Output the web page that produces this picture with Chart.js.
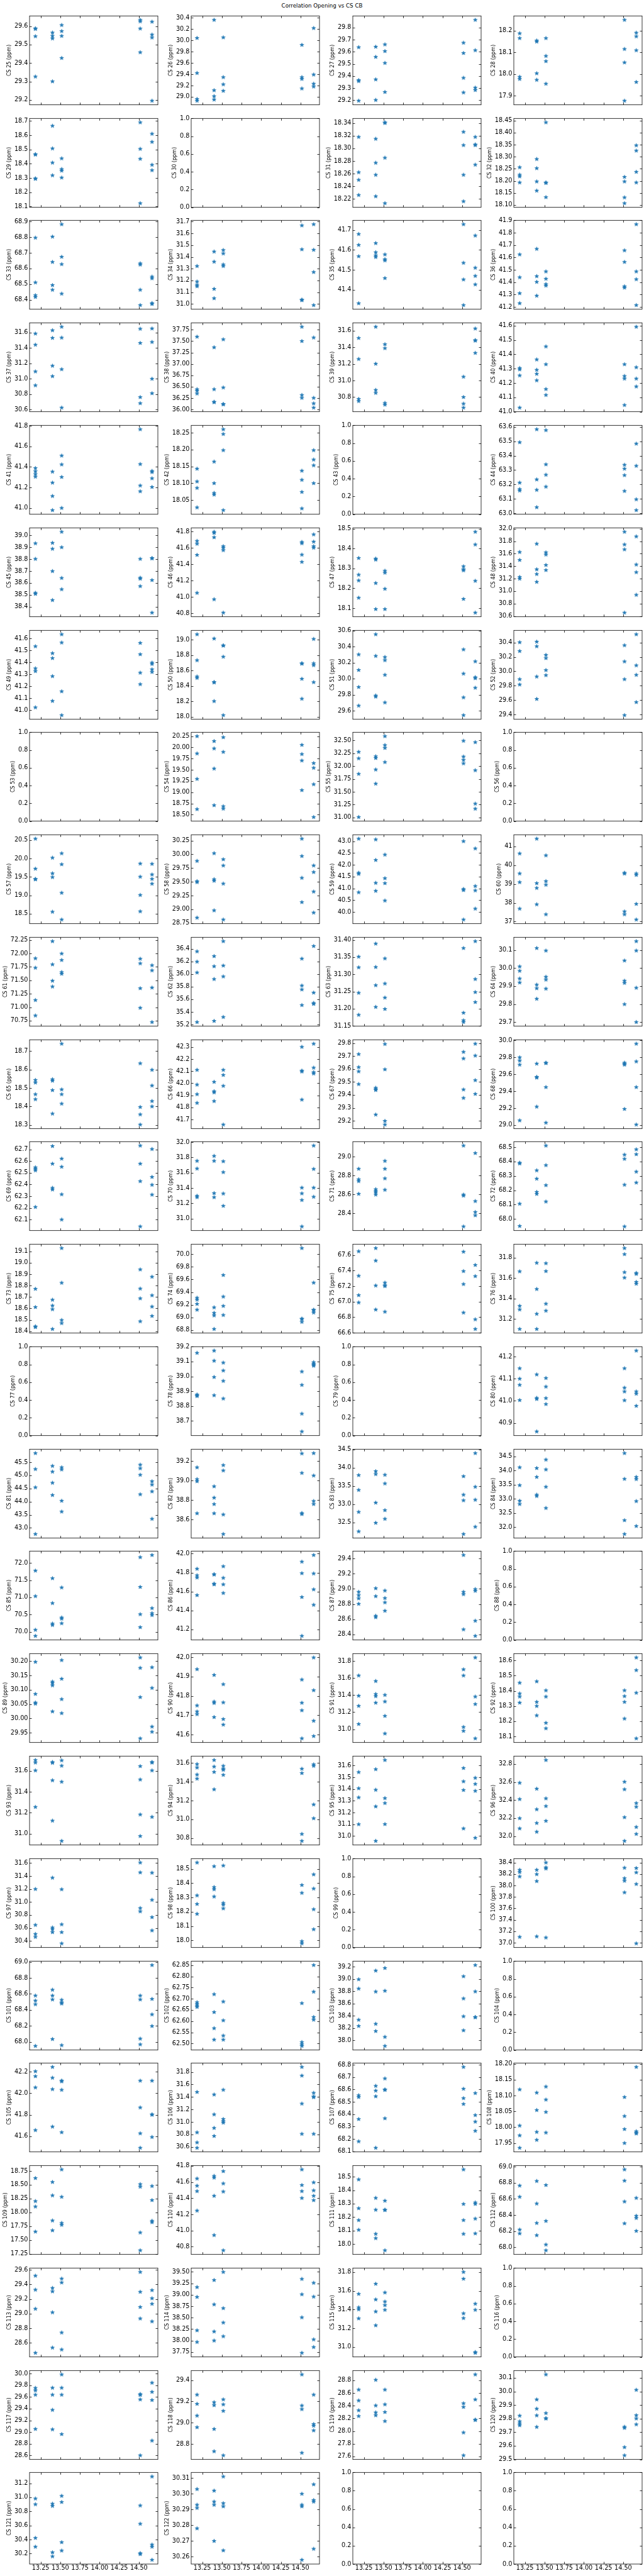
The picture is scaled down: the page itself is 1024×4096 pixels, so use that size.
<!DOCTYPE html>
<html>
<head>
<meta charset="utf-8">
<script src="https://cdn.jsdelivr.net/npm/chart.js@4/dist/chart.umd.min.js"></script>
<style>
  body { margin: 0; background: #fff; width: 1024px; height: 4096px; position: relative; overflow: hidden; }
  canvas { position: absolute; }
  #title { position: absolute; top: 3.5px; left: 0; width: 1024px; text-align: center;
           font: 8.7px "DejaVu Sans"; line-height: 10px; color: #000; }
</style>
</head>
<body>
<div id="title">Correlation Opening vs CS CB</div>
<script>
// measurement times (decimal hours), shared by every panel
const timePoints = [13.183, 13.4, 13.517, 14.517, 14.667];
const xTickValues = [13.25, 13.5, 13.75, 14.0, 14.25, 14.5];

const csIds = [];
for (let i = 25; i <= 122; i++) csIds.push(i);

// chemical shifts (ppm): per panel, one group of 4 replicates per time point; null = no data
const csShifts = [
  [[29.588,29.585,29.545,29.326],[29.565,29.547,29.533,29.300],[29.606,29.573,29.547,29.427],[29.634,29.626,29.587,29.458],[29.624,29.554,29.538,29.195]],
  [[30.04,29.42,28.96,28.93],[30.36,29.115,29.01,28.95],[30.05,29.346,29.22,29.105],[29.918,29.346,29.315,29.146],[30.215,29.392,29.23,29.18]],
  [[29.637,29.365,29.357,29.195],[29.641,29.557,29.371,29.201],[29.66,29.605,29.507,29.267],[29.674,29.589,29.384,29.263],[29.863,29.612,29.303,29.283]],
  [[18.187,18.165,17.987,17.977],[18.154,18.149,18.003,17.973],[18.165,18.083,18.059,17.955],[18.249,18.115,18.053,17.877],[18.19,18.173,18.109,17.963]],
  [[18.466,18.464,18.296,18.294],[18.666,18.507,18.407,18.318],[18.437,18.362,18.351,18.302],[18.69,18.504,18.434,18.122],[18.61,18.553,18.392,18.354]],
  null,
  [[18.318,18.262,18.25,18.226],[18.315,18.277,18.258,18.224],[18.341,18.34,18.285,18.213],[18.326,18.305,18.258,18.216],[18.318,18.306,18.305,18.274]],
  [[18.256,18.225,18.218,18.193],[18.29,18.252,18.197,18.159],[18.442,18.193,18.191,18.132],[18.216,18.197,18.131,18.107],[18.347,18.325,18.237,18.193]],
  [[68.796,68.51,68.428,68.417],[68.803,68.641,68.493,68.463],[68.882,68.674,68.627,68.438],[68.632,68.624,68.463,68.365],[68.547,68.536,68.378,68.372]],
  [[31.322,31.19,31.162,31.15],[31.445,31.359,31.128,31.048],[31.458,31.429,31.335,31.322],[31.667,31.464,31.037,31.031],[31.677,31.46,31.271,30.99]],
  [[41.68,41.625,41.568,41.331],[41.634,41.588,41.572,41.564],[41.577,41.553,41.547,41.458],[41.729,41.535,41.451,41.322],[41.672,41.51,41.469,41.426]],
  [[41.624,41.439,41.31,41.229],[41.669,41.448,41.402,41.29],[41.486,41.427,41.384,41.372],[41.657,41.563,41.366,41.355],[41.868,41.486,41.423,41.214]],
  [[31.585,31.44,31.093,30.913],[31.628,31.529,31.167,31.032],[31.673,31.532,31.122,30.624],[31.647,31.463,30.76,30.681],[31.651,31.476,30.998,30.81]],
  [[37.595,36.444,36.412,36.349],[37.363,36.444,36.168,36.159],[37.538,36.482,36.121,36.111],[37.813,37.5,36.317,36.254],[37.576,36.254,36.133,36.041]],
  [[31.509,31.257,30.777,30.751],[31.644,31.2,30.885,30.85],[31.434,31.387,30.729,30.708],[31.044,30.8,30.72,30.673],[31.623,31.483,31.478,31.33]],
  [[41.304,41.294,41.252,41.028],[41.363,41.291,41.263,41.218],[41.454,41.33,41.157,41.116],[41.33,41.248,41.23,41.046],[41.591,41.309,41.23,41.175]],
  [[41.388,41.357,41.329,41.304],[41.353,41.246,41.116,40.979],[41.509,41.423,41.301,41.0],[41.765,41.427,41.218,41.162],[41.36,41.349,41.288,41.204]],
  [[18.143,18.105,18.086,18.028],[18.164,18.1,18.071,18.066],[18.26,18.246,18.198,18.02],[18.137,18.11,18.074,18.025],[18.198,18.17,18.153,18.1]],
  null,
  [[63.493,63.212,63.167,63.157],[63.583,63.234,63.162,63.041],[63.577,63.339,63.267,63.184],[63.336,63.309,63.264,63.154],[63.483,63.329,63.096,63.021]],
  [[38.933,38.802,38.516,38.507],[38.937,38.887,38.699,38.455],[39.03,38.9,38.641,38.546],[38.802,38.643,38.635,38.572],[38.809,38.806,38.623,38.349]],
  [[41.684,41.649,41.513,41.05],[41.795,41.781,41.728,40.972],[41.619,41.601,41.571,40.809],[41.671,41.655,41.516,41.428],[41.763,41.675,41.619,41.601]],
  [[18.352,18.268,18.239,18.152],[18.349,18.344,18.226,18.095],[18.288,18.278,18.197,18.095],[18.31,18.295,18.29,18.146],[18.484,18.42,18.237,18.077]],
  [[31.625,31.498,31.225,31.198],[31.757,31.348,31.272,31.147],[31.619,31.584,31.417,31.336],[31.949,31.746,31.667,30.654],[31.875,31.424,31.302,30.939]],
  [[41.534,41.349,41.326,41.023],[41.476,41.435,41.284,41.077],[41.634,41.565,41.157,40.958],[41.562,41.467,41.313,41.217],[41.397,41.386,41.341,41.319]],
  [[19.07,18.733,18.522,18.504],[19.015,18.45,18.445,18.202],[18.925,18.924,18.779,18.02],[18.693,18.69,18.492,18.233],[19.01,18.693,18.669,18.448]],
  [[30.301,30.108,29.896,29.664],[30.552,30.283,29.79,29.776],[30.269,30.23,30.048,29.704],[30.364,30.063,29.767,29.546],[30.215,30.018,30.005,29.887]],
  [[30.402,30.28,29.89,29.816],[30.41,30.346,29.926,29.616],[30.226,30.182,30.016,29.946],[30.36,30.136,29.89,29.392],[30.512,30.082,29.95,29.572]],
  null,
  [[20.247,19.862,19.295,18.622],[20.138,19.974,19.526,18.708],[20.224,19.897,18.686,18.632],[20.054,19.849,19.705,19.045],[19.647,19.542,19.176,18.446]],
  [[32.276,32.15,31.848,31.008],[32.189,32.156,31.932,31.657],[32.581,32.408,32.352,32.077],[32.492,32.184,32.119,32.052],[32.464,31.918,31.268,31.17]],
  null,
  [[20.536,19.722,19.444,19.433],[20.02,19.595,19.492,18.552],[20.139,19.841,19.067,18.341],[19.861,19.504,19.008,18.564],[19.853,19.564,19.444,19.314]],
  [[29.879,29.51,29.492,28.847],[30.018,29.545,29.518,28.979],[29.908,29.795,29.466,28.813],[30.282,29.967,29.571,29.129],[29.795,29.676,29.321,28.939]],
  [[43.106,41.662,41.613,40.833],[43.075,42.203,41.232,40.894],[42.43,41.429,41.22,40.483],[43.0,40.974,40.925,39.678],[42.694,41.097,40.913,40.139]],
  [[40.615,39.554,39.092,37.685],[41.4,39.038,38.785,37.915],[40.515,39.146,38.954,37.385],[39.592,39.55,37.538,37.385],[39.554,39.477,37.938,37.108]],
  [[71.908,71.733,71.132,70.844],[72.226,71.795,71.491,71.383],[71.997,71.876,71.652,71.62],[71.9,71.814,71.351,70.987],[71.779,71.684,71.364,70.723]],
  [[36.356,36.194,36.022,35.239],[36.281,36.121,35.919,35.257],[36.517,36.132,35.96,35.319],[36.242,35.816,35.754,35.507],[36.441,35.704,35.541,35.525]],
  [[31.351,31.32,31.246,31.182],[31.389,31.321,31.268,31.205],[31.346,31.273,31.232,31.199],[31.376,31.188,31.166,31.161],[31.396,31.286,31.248,31.219]],
  [[30.008,29.984,29.941,29.919],[30.11,29.907,29.887,29.829],[30.096,29.951,29.935,29.885],[30.041,29.929,29.917,29.799],[30.148,30.096,29.89,29.7]],
  [[18.543,18.529,18.466,18.439],[18.547,18.539,18.488,18.361],[18.739,18.492,18.466,18.415],[18.633,18.397,18.357,18.302],[18.598,18.513,18.429,18.4]],
  [[42.11,41.988,41.909,41.837],[42.011,41.933,41.924,41.852],[42.11,42.068,41.978,41.658],[42.3,42.104,42.096,41.864],[42.326,42.128,42.091,42.08]],
  [[29.715,29.614,29.581,29.483],[29.454,29.444,29.437,29.247],[29.793,29.597,29.198,29.17],[29.732,29.681,29.441,29.376],[29.795,29.703,29.513,29.407]],
  [[29.798,29.76,29.712,29.054],[29.724,29.568,29.559,29.216],[29.735,29.73,29.447,29.027],[29.735,29.722,29.712,29.189],[29.959,29.75,29.447,29.005]],
  [[62.546,62.533,62.52,62.208],[62.727,62.577,62.371,62.357],[62.62,62.551,62.316,62.101],[62.731,62.577,62.428,62.042],[62.702,62.464,62.397,62.313]],
  [[31.754,31.653,31.297,31.278],[31.818,31.754,31.331,31.278],[31.748,31.606,31.326,31.165],[31.403,31.328,31.242,30.896],[31.953,31.648,31.403,31.284]],
  [[28.871,28.759,28.74,28.605],[28.654,28.635,28.62,28.597],[28.955,28.871,28.769,28.648],[29.117,28.597,28.586,28.259],[29.038,28.528,28.412,28.377]],
  [[68.391,68.386,68.106,67.951],[68.338,68.28,68.188,68.174],[68.51,68.374,68.235,68.121],[68.447,68.418,68.238,67.948],[68.484,68.45,68.329,68.253]],
  [[18.771,18.611,18.442,18.435],[18.675,18.624,18.592,18.419],[19.128,18.824,18.497,18.47],[18.941,18.773,18.687,18.486],[18.877,18.714,18.615,18.533]],
  [[69.309,69.279,69.211,69.119],[69.156,69.069,69.028,68.814],[69.669,69.327,69.179,69.035],[70.096,68.978,68.97,68.926],[69.548,69.119,69.11,69.074]],
  [[67.648,67.333,67.083,66.989],[67.689,67.528,67.207,66.898],[67.244,67.21,67.2,66.87],[67.643,67.393,67.226,66.859],[67.472,67.328,66.772,66.648]],
  [[31.665,31.327,31.292,31.101],[31.749,31.492,31.249,31.101],[31.745,31.668,31.348,31.28],[31.893,31.834,31.657,31.604],[31.65,31.64,31.562,31.544]],
  null,
  [[39.158,38.877,38.871,38.867],[39.173,39.105,38.995,38.872],[39.092,39.039,38.969,38.85],[39.032,38.942,38.748,38.628],[39.095,39.084,39.078,39.071]],
  null,
  [[41.147,41.1,41.072,41.003],[41.119,41.013,41.008,40.861],[41.103,41.064,41.012,40.985],[41.147,41.059,41.042,41.002],[41.227,41.042,41.032,40.977]],
  [[45.841,45.236,44.539,42.764],[45.356,45.137,44.714,44.247],[45.302,45.219,44.028,43.616],[45.401,45.264,45.017,44.275],[44.77,44.643,44.384,43.341]],
  [[39.136,39.015,38.993,38.664],[38.941,38.825,38.759,38.664],[39.159,39.104,38.652,38.452],[39.279,39.079,38.667,38.656],[39.282,39.052,38.79,38.759]],
  [[33.794,33.386,32.783,32.247],[33.901,33.821,33.036,32.482],[33.802,33.564,32.83,32.592],[33.762,33.255,33.1,32.176],[34.397,33.473,33.116,32.374]],
  [[34.113,33.482,32.932,32.815],[34.087,33.773,33.146,33.1],[34.384,34.037,33.426,32.677],[34.613,33.705,32.245,31.76],[33.773,33.696,32.92,32.04]],
  [[71.777,71.034,70.054,69.878],[71.555,70.832,70.235,70.193],[71.286,70.412,70.378,70.244],[72.168,71.302,70.508,70.13],[72.231,70.685,70.538,70.483]],
  [[41.84,41.771,41.747,41.561],[41.782,41.779,41.683,41.675],[41.866,41.744,41.675,41.584],[41.915,41.793,41.541,41.131],[41.985,41.79,41.622,41.459]],
  [[28.96,28.916,28.874,28.802],[29.007,28.903,28.645,28.626],[28.977,28.878,28.821,28.711],[29.444,28.96,28.929,28.466],[28.996,28.973,28.58,28.381]],
  null,
  [[30.197,30.085,30.055,30.051],[30.128,30.123,30.115,30.024],[30.203,30.138,30.067,30.018],[30.212,30.176,30.074,29.93],[30.178,30.106,29.971,29.953]],
  [[41.938,41.75,41.719,41.705],[41.908,41.77,41.763,41.69],[41.86,41.766,41.68,41.651],[41.884,41.764,41.725,41.58],[41.998,41.829,41.671,41.592]],
  [[31.63,31.392,31.273,31.06],[31.565,31.412,31.387,31.31],[31.402,31.324,31.155,30.948],[31.702,31.63,31.025,30.979],[31.841,31.382,31.294,30.891]],
  [[18.453,18.382,18.362,18.322],[18.462,18.327,18.3,18.238],[18.403,18.362,18.189,18.153],[18.403,18.365,18.327,18.217],[18.619,18.536,18.387,18.087]],
  [[31.702,31.678,31.603,31.255],[31.683,31.676,31.509,31.124],[31.699,31.648,31.495,30.931],[31.644,31.516,31.183,30.977],[31.683,31.678,31.603,31.16]],
  [[31.588,31.551,31.476,31.433],[31.631,31.561,31.504,31.319],[31.569,31.538,31.527,31.473],[31.538,31.492,30.843,30.769],[31.585,31.569,31.157,31.01]],
  [[31.544,31.406,31.328,31.099],[31.569,31.393,31.251,30.957],[31.647,31.322,31.28,31.1],[31.579,31.465,31.391,31.063],[31.495,31.443,31.384,30.983]],
  [[32.591,32.41,32.198,32.085],[32.525,32.297,32.145,32.048],[32.843,32.418,32.333,32.169],[32.602,32.519,32.209,31.947],[32.366,32.325,32.101,32.024]],
  [[31.199,30.645,30.505,30.46],[31.373,30.605,30.578,30.533],[31.195,30.654,30.533,30.36],[31.607,31.455,30.905,30.854],[31.45,31.032,30.765,30.56]],
  [[18.544,18.314,18.254,18.185],[18.518,18.372,18.357,18.306],[18.523,18.261,18.249,18.223],[18.387,18.332,17.993,17.978],[18.461,18.362,18.217,18.077]],
  null,
  [[38.273,38.233,38.157,37.1],[38.273,38.197,38.076,37.108],[38.4,38.316,38.296,37.088],[38.309,38.126,38.081,37.878],[38.304,38.228,38.025,36.986]],
  [[68.578,68.515,68.469,67.947],[68.651,68.578,68.529,68.033],[68.524,68.491,68.478,67.956],[68.578,68.529,68.038,67.966],[68.96,68.536,68.342,68.196]],
  [[62.684,62.676,62.669,62.663],[62.72,62.64,62.568,62.517],[62.687,62.603,62.535,62.517],[62.68,62.506,62.496,62.489],[62.85,62.731,62.618,62.606]],
  [[38.992,38.84,38.331,38.23],[39.134,38.791,38.265,38.147],[39.176,38.805,38.052,37.905],[39.041,38.679,38.388,38.159],[39.224,38.793,38.376,38.372]],
  null,
  [[42.203,42.157,42.053,41.657],[42.243,42.143,42.037,41.689],[42.117,42.109,42.031,41.637],[42.116,41.867,41.627,41.493],[42.116,41.803,41.8,41.593]],
  [[31.478,30.832,30.671,30.586],[31.437,31.12,30.903,30.775],[31.513,31.046,31.011,30.988],[31.878,31.74,31.292,30.809],[31.464,31.406,31.395,30.809]],
  [[68.552,68.538,68.36,68.18],[68.628,68.59,68.544,68.128],[68.688,68.599,68.596,68.366],[68.781,68.605,68.529,68.482],[68.57,68.392,68.339,68.265]],
  [[18.119,18.005,17.974,17.935],[18.109,18.054,17.985,17.96],[18.128,18.087,18.048,17.983],[18.095,18.035,17.994,17.95],[18.19,17.987,17.983,17.98]],
  [[18.62,18.202,18.103,17.649],[18.549,18.306,17.85,17.672],[18.776,18.28,17.806,17.772],[18.51,18.463,17.633,17.31],[18.476,18.22,17.845,17.819]],
  [[41.643,41.554,41.487,41.246],[41.675,41.654,41.429,40.943],[41.734,41.582,41.482,40.755],[41.755,41.562,41.487,41.402],[41.595,41.496,41.429,41.375]],
  [[18.479,18.265,18.177,18.105],[18.342,18.254,18.075,18.043],[18.321,18.254,18.252,17.953],[18.553,18.297,18.177,18.075],[18.308,18.297,18.188,18.078]],
  [[68.764,68.625,68.218,68.17],[68.821,68.541,68.3,68.148],[68.771,68.325,68.032,67.961],[68.964,68.825,68.566,68.295],[68.611,68.389,68.362,68.202]],
  [[29.519,29.327,29.066,28.462],[29.351,29.304,29.017,28.533],[29.479,29.426,28.74,28.507],[29.57,29.298,29.09,28.932],[29.321,29.209,29.134,28.893]],
  [[39.164,38.95,38.221,37.967],[39.318,38.787,38.196,37.998],[39.494,38.705,38.391,38.092],[39.343,39.007,38.504,37.731],[39.258,38.956,38.023,37.857]],
  [[31.566,31.422,31.401,31.304],[31.674,31.507,31.378,31.23],[31.581,31.484,31.446,31.396],[31.8,31.728,31.358,31.308],[31.461,31.396,30.945,30.937]],
  null,
  [[29.753,29.711,29.637,29.052],[29.756,29.637,29.378,29.044],[29.983,29.756,29.637,28.963],[29.649,29.632,29.556,28.6],[29.842,29.686,29.546,28.852]],
  [[29.262,29.176,29.065,28.956],[29.191,29.163,28.94,28.73],[29.218,29.171,29.11,28.692],[29.452,29.16,29.126,28.716],[29.262,28.986,28.97,28.926]],
  [[28.652,28.481,28.326,28.235],[28.807,28.402,28.292,28.247],[28.652,28.42,28.299,28.156],[28.436,28.379,27.976,27.616],[28.891,28.497,28.178,28.174]],
  [[29.821,29.779,29.763,29.75],[29.94,29.872,29.823,29.738],[30.124,29.84,29.802,29.8],[29.739,29.731,29.589,29.529],[30.011,29.824,29.8,29.757]],
  [[30.982,30.9,30.422,30.297],[30.908,30.877,30.217,30.16],[31.02,30.932,30.361,30.242],[30.883,30.623,30.206,30.192],[31.295,30.327,30.297,30.111]],
  [[30.303,30.293,30.291,30.278],[30.302,30.295,30.293,30.27],[30.311,30.294,30.292,30.264],[30.3,30.293,30.292,30.258],[30.306,30.296,30.295,30.265]]
];

// layout (px in the 1024 wide page)
const S = 1024 / 1440;
const NCOLS = 4, NROWS = 25;
const colLeft = [47, 304, 561, 817];
const areaW = 204, areaH = 146;
const yAxisW = 47, padTop = 8, padRight = 5;
const tickFont = { family: "DejaVu Sans", size: 9.7 };
const labelFont = "8px 'DejaVu Sans'";
const starColor = "#1f77b4";

// matplotlib-like MaxNLocator (nbins 8, steps 1/2/2.5/5/10)
function locateTicks(vmin, vmax, nbins) {
  const raw = (vmax - vmin) / nbins;
  const scale = Math.pow(10, Math.floor(Math.log10(raw)));
  let step = 10 * scale;
  for (const b of [1, 2, 2.5, 5, 10]) {
    if (b * scale >= raw * (1 - 1e-10)) { step = b * scale; break; }
  }
  const best = Math.floor(vmin / step) * step;
  const lo = Math.floor((vmin - best) / step + 1e-9);
  const hi = Math.ceil((vmax - best) / step - 1e-9);
  const ticks = [];
  for (let k = lo; k <= hi; k++) {
    const v = best + k * step;
    if (v >= vmin - 1e-9 * step && v <= vmax + 1e-9 * step) ticks.push(+v.toFixed(10));
  }
  let dec = 0;
  while (dec < 8 && Math.abs(step * Math.pow(10, dec) - Math.round(step * Math.pow(10, dec))) > 1e-6) dec++;
  return { ticks, dec };
}

function withMargin(lo, hi) {
  const d = (hi - lo) * 0.05;
  return [lo - d, hi + d];
}

// filled 5 point star marker like matplotlib "*"
const starImg = document.createElement("canvas");
starImg.width = 9; starImg.height = 9;
(function () {
  const c = starImg.getContext("2d");
  const R = 3.2, r = R * 0.381966;
  c.beginPath();
  for (let i = 0; i < 10; i++) {
    const rad = i % 2 === 0 ? R : r;
    const a = -Math.PI / 2 + i * Math.PI / 5;
    const px = 4.5 + rad * Math.cos(a), py = 4.5 + rad * Math.sin(a);
    if (i === 0) c.moveTo(px, py); else c.lineTo(px, py);
  }
  c.closePath();
  c.fillStyle = starColor; c.strokeStyle = starColor; c.lineWidth = 0.8;
  c.fill(); c.stroke();
})();

// box, inward ticks on all four sides, y label
const framePlugin = {
  id: "frame",
  afterDraw(chart, args, opts) {
    const { ctx, chartArea: a, scales } = chart;
    ctx.save();
    ctx.strokeStyle = "#000";
    ctx.lineWidth = 0.8;
    ctx.strokeRect(a.left, a.top, a.right - a.left, a.bottom - a.top);
    ctx.beginPath();
    scales.x.ticks.forEach(t => {
      const px = Math.round(scales.x.getPixelForValue(t.value)) + 0.5;
      ctx.moveTo(px, a.top); ctx.lineTo(px, a.top + 3.5);
      ctx.moveTo(px, a.bottom); ctx.lineTo(px, a.bottom - 3.5);
    });
    scales.y.ticks.forEach(t => {
      const py = Math.round(scales.y.getPixelForValue(t.value)) + 0.5;
      ctx.moveTo(a.left, py); ctx.lineTo(a.left + 3.5, py);
      ctx.moveTo(a.right, py); ctx.lineTo(a.right - 3.5, py);
    });
    ctx.stroke();
    if (opts.label) {
      ctx.font = tickFont.size + "px 'DejaVu Sans'";
      let widest = 0;
      scales.y.ticks.forEach(t => { widest = Math.max(widest, ctx.measureText(String(t.label)).width); });
      const xr = a.left - 2.5 - widest - 4;
      ctx.translate(xr, (a.top + a.bottom) / 2);
      ctx.rotate(-Math.PI / 2);
      ctx.font = labelFont;
      ctx.fillStyle = "#000";
      ctx.textAlign = "center";
      ctx.textBaseline = "bottom";
      ctx.fillText(opts.label, 0, 0);
    }
    ctx.restore();
  }
};

const [xMin, xMax] = withMargin(Math.min(...timePoints), Math.max(...timePoints));

for (let slot = 0; slot < NROWS * NCOLS; slot++) {
  const row = Math.floor(slot / NCOLS), col = slot % NCOLS;
  const isBottom = row === NROWS - 1;
  const groups = slot < csIds.length ? csShifts[slot] : null;
  const label = slot < csIds.length ? "CS " + csIds[slot] + " (ppm)" : "";

  const points = [];
  if (groups) {
    groups.forEach((g, i) => g.forEach(v => points.push({ x: timePoints[i], y: v })));
  }
  let yMin = 0, yMax = 1;
  if (points.length) {
    const ys = points.map(p => p.y);
    [yMin, yMax] = withMargin(Math.min(...ys), Math.max(...ys));
  }
  const yLoc = locateTicks(yMin, yMax, 8);

  const bottomExtra = isBottom ? 24 : 4;
  const areaTop = Math.round(35 * S + row * 228.9 * S);
  const cv = document.createElement("canvas");
  cv.width = yAxisW + areaW + padRight;
  cv.height = padTop + areaH + bottomExtra;
  cv.style.left = (colLeft[col] - yAxisW) + "px";
  cv.style.top = (areaTop - padTop) + "px";
  document.body.appendChild(cv);

  new Chart(cv.getContext("2d"), {
    type: "scatter",
    data: {
      datasets: [{
        data: points,
        pointStyle: starImg,
        pointRadius: 4,
        backgroundColor: starColor,
        borderColor: starColor
      }]
    },
    options: {
      responsive: false,
      animation: false,
      events: [],
      layout: { padding: { top: padTop, right: padRight, left: 0, bottom: 0 } },
      plugins: {
        legend: { display: false },
        tooltip: { enabled: false },
        frame: { label: label }
      },
      scales: {
        x: {
          type: "linear",
          min: xMin,
          max: xMax,
          grid: { display: false, drawTicks: false },
          border: { display: false },
          ticks: {
            display: isBottom,
            font: tickFont,
            color: "#000",
            padding: 1,
            maxRotation: 0,
            autoSkip: false,
            callback: v => v.toFixed(2)
          },
          afterBuildTicks: s => { s.ticks = xTickValues.map(v => ({ value: v })); },
          afterFit: s => { s.height = bottomExtra; }
        },
        y: {
          type: "linear",
          min: yMin,
          max: yMax,
          grid: { display: false, drawTicks: false },
          border: { display: false },
          ticks: {
            font: tickFont,
            color: "#000",
            padding: 2.5,
            autoSkip: false,
            callback: v => v.toFixed(yLoc.dec)
          },
          afterBuildTicks: s => { s.ticks = yLoc.ticks.map(v => ({ value: v })); },
          afterFit: s => { s.width = yAxisW; }
        }
      }
    },
    plugins: [framePlugin]
  });
}
</script>
</body>
</html>
